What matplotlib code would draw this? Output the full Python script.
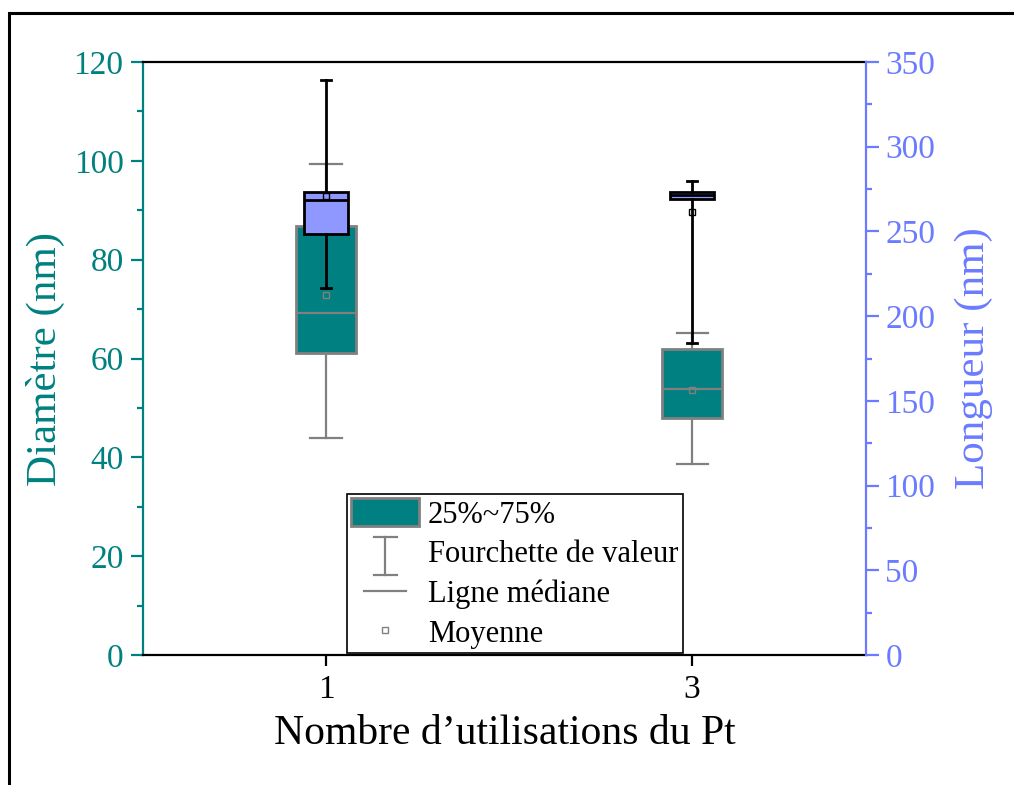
import matplotlib
matplotlib.use("Agg")
import matplotlib.pyplot as plt
from matplotlib.patches import Rectangle, Patch
from matplotlib.lines import Line2D
from matplotlib.legend_handler import HandlerBase
from matplotlib.ticker import MultipleLocator

plt.rcParams['font.family'] = ['Liberation Serif', 'DejaVu Serif']

# ---- data ----
positions = [1, 3]
xtick_labels = ['1', '3']
# Diameter (nm), left axis
diam_q1 = [61.1, 48.0]
diam_med = [69.3, 53.9]
diam_q3 = [86.9, 61.9]
diam_lo = [44.0, 38.6]
diam_hi = [99.3, 65.1]
diam_mean = [72.8, 53.6]
# Length (nm), right axis
len_q1 = [248.5, 269.3]
len_med = [268.5, 271.5]
len_q3 = [273.1, 273.1]
len_lo = [216.8, 184.0]
len_hi = [339.4, 279.9]
len_mean = [270.9, 261.3]

legend_labels = ['25%~75%', 'Fourchette de valeur', 'Ligne médiane', 'Moyenne']

TEAL = '#008080'
GRAY = '#808080'
BLUE_AX = '#6b7bff'
BLUE_FILL = '#8f98ff'

fig = plt.figure(figsize=(10.14, 7.85), dpi=100)
ax = fig.add_axes([143/1014, 1-655/785, (866-143)/1014, (655-62)/785])
ax2 = ax.twinx()

def stats(q1, med, q3, lo, hi, mean):
    return [dict(q1=a, med=b, q3=c, whislo=d, whishi=e, mean=f, fliers=[])
            for a, b, c, d, e, f in zip(q1, med, q3, lo, hi, mean)]

ax.bxp(stats(diam_q1, diam_med, diam_q3, diam_lo, diam_hi, diam_mean),
       positions=positions, widths=0.33, patch_artist=True, showmeans=True,
       showfliers=False,
       boxprops=dict(facecolor=TEAL, edgecolor=GRAY, linewidth=2),
       medianprops=dict(color=GRAY, linewidth=1.6),
       whiskerprops=dict(color=GRAY, linewidth=1.6),
       capprops=dict(color=GRAY, linewidth=1.6),
       capwidths=0.17,
       meanprops=dict(marker='s', markersize=5, markerfacecolor='none',
                      markeredgecolor=GRAY, markeredgewidth=1.0))

ax2.bxp(stats(len_q1, len_med, len_q3, len_lo, len_hi, len_mean),
        positions=positions, widths=0.24, patch_artist=True, showmeans=True,
        showfliers=False,
        boxprops=dict(facecolor=BLUE_FILL, edgecolor='black', linewidth=2),
        medianprops=dict(color='black', linewidth=2),
        whiskerprops=dict(color='black', linewidth=2),
        capprops=dict(color='black', linewidth=2),
        capwidths=0.055,
        meanprops=dict(marker='s', markersize=5, markerfacecolor='none',
                       markeredgecolor='black', markeredgewidth=1.0))

ax.set_xlim(0, 3.95)
ax.set_ylim(0, 120)
ax2.set_ylim(0, 350)
ax.set_xticks(positions)
ax.set_xticklabels(xtick_labels)

ax.yaxis.set_major_locator(MultipleLocator(20))
ax.yaxis.set_minor_locator(MultipleLocator(10))
ax2.yaxis.set_major_locator(MultipleLocator(50))
ax2.yaxis.set_minor_locator(MultipleLocator(25))

for a in (ax, ax2):
    for s in a.spines.values():
        s.set_linewidth(1.6)
ax.spines['right'].set_visible(False)
ax2.spines['left'].set_visible(False)
ax2.spines['top'].set_visible(False)
ax2.spines['bottom'].set_visible(False)
ax.spines['left'].set_color(TEAL)
ax2.spines['right'].set_color(BLUE_AX)

ax.tick_params(axis='y', which='major', direction='out', length=9, width=1.6,
               colors=TEAL, labelsize=24, pad=5)
ax.tick_params(axis='y', which='minor', direction='out', length=4.5, width=1.6, colors=TEAL)
ax.tick_params(axis='x', which='major', direction='out', length=8, width=1.6,
               colors='black', labelsize=24, pad=6)
ax.tick_params(axis='x', which='minor', bottom=False)
ax2.tick_params(axis='y', which='major', direction='out', length=9, width=1.6,
                colors=BLUE_AX, labelsize=24, pad=5)
ax2.tick_params(axis='y', which='minor', direction='out', length=4.5, width=1.6, colors=BLUE_AX)

ax.set_ylabel('Diamètre (nm)', color=TEAL, fontsize=31, labelpad=6)
ax2.set_ylabel('Longueur (nm)', color=BLUE_AX, fontsize=31, labelpad=14)
ax.set_xlabel('Nombre d’utilisations du Pt', color='black', fontsize=30, labelpad=7)


class IHandler(HandlerBase):
    def create_artists(self, legend, orig_handle, xdescent, ydescent, width,
                       height, fontsize, trans):
        cx = width / 2 - xdescent
        top = height * 1.05 - ydescent
        bot = -height * 0.35 - ydescent
        cw = width * 0.17
        arts = [Line2D([cx, cx], [bot, top], color=GRAY, lw=1.6),
                Line2D([cx - cw, cx + cw], [top, top], color=GRAY, lw=1.6),
                Line2D([cx - cw, cx + cw], [bot, bot], color=GRAY, lw=1.6)]
        for a in arts:
            a.set_transform(trans)
        return arts


class ShortLineHandler(HandlerBase):
    def create_artists(self, legend, orig_handle, xdescent, ydescent, width,
                       height, fontsize, trans):
        cx = width / 2 - xdescent
        cy = height / 2 - ydescent
        hw = width * 0.31
        ln = Line2D([cx - hw, cx + hw], [cy, cy], color=GRAY, lw=1.6)
        ln.set_transform(trans)
        return [ln]


class IKey:
    pass


class MedKey:
    pass


handles = [Patch(facecolor=TEAL, edgecolor=GRAY, linewidth=2),
           IKey(),
           MedKey(),
           Line2D([], [], color=GRAY, lw=0, marker='s', markersize=5,
                  markerfacecolor='none', markeredgecolor=GRAY, markeredgewidth=1.0)]

leg = ax2.legend(handles, legend_labels, loc='lower left',
                 bbox_to_anchor=(0.282, 0.003), borderaxespad=0,
                 fontsize=22, frameon=True, fancybox=False, edgecolor='black',
                 framealpha=1, handlelength=2.2, handleheight=1.0,
                 handletextpad=0.3, labelspacing=0.28, borderpad=0.15,
                 handler_map={IKey: IHandler(), MedKey: ShortLineHandler()})
leg.get_frame().set_linewidth(1.2)

# outer frame
fig.patches.append(Rectangle((9/1014, -0.1), 1.5, (1 - 13/785) + 0.1,
                             transform=fig.transFigure, fill=False,
                             edgecolor='black', linewidth=2.2))

fig.savefig('out.png', dpi=100)
